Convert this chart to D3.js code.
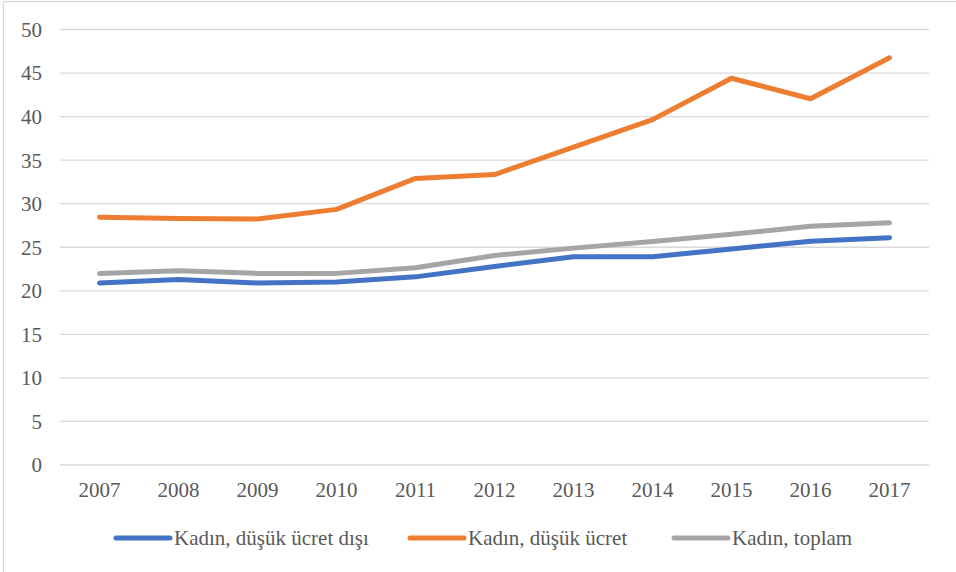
<!DOCTYPE html>
<html>
<head>
<meta charset="utf-8">
<script src="https://cdn.jsdelivr.net/npm/d3@7"></script>
<style>
  body { margin: 0; background: #fff; }
</style>
</head>
<body>
<div id="chart"></div>
<script>
const years = ["2007","2008","2009","2010","2011","2012","2013","2014","2015","2016","2017"];
const disi   = [20.9, 21.3, 20.9, 21.0, 21.6, 22.8, 23.9, 23.9, 24.8, 25.7, 26.1];
const dusuk  = [28.45, 28.3, 28.25, 29.35, 32.9, 33.35, 36.5, 39.65, 44.4, 42.05, 46.75];
const toplam = [22.0, 22.3, 22.0, 22.0, 22.65, 24.05, 24.9, 25.65, 26.5, 27.4, 27.8];
const yTicks = [0, 5, 10, 15, 20, 25, 30, 35, 40, 45, 50];

const series = [
  { name: "Kadın, düşük ücret dışı", values: disi, color: "#4472C4" },
  { name: "Kadın, düşük ücret", values: dusuk, color: "#ED7D31" },
  { name: "Kadın, toplam", values: toplam, color: "#A5A5A5" }
];

const W = 956, H = 572;
const margin = { top: 29.5, right: 27, bottom: 107, left: 60 };
const FONT = "\"Liberation Serif\"";

const svg = d3.select("#chart").append("svg")
  .attr("width", W).attr("height", H);

// chart border
svg.append("rect")
  .attr("x", 3.5).attr("y", 1.5)
  .attr("width", W + 10).attr("height", H + 10)
  .attr("fill", "none").attr("stroke", "#d9d9d9").attr("stroke-width", 1.3);

const x = d3.scaleBand().domain(years).range([margin.left, W - margin.right]);
const y = d3.scaleLinear().domain([0, 50]).range([H - margin.bottom, margin.top]);

// gridlines
svg.append("g").selectAll("line")
  .data(yTicks)
  .join("line")
  .attr("x1", margin.left).attr("x2", W - margin.right)
  .attr("y1", d => y(d)).attr("y2", d => y(d))
  .attr("stroke", "#d9d9d9").attr("stroke-width", 1.3);

// y labels
svg.append("g").selectAll("text")
  .data(yTicks)
  .join("text")
  .attr("x", 42)
  .attr("y", d => y(d))
  .attr("dy", "0.35em")
  .attr("text-anchor", "end")
  .attr("fill", "#595959")
  .style("font-family", FONT)
  .style("font-size", "21px")
  .text(d => d);

// x labels
svg.append("g").selectAll("text")
  .data(years)
  .join("text")
  .attr("x", d => x(d) + x.bandwidth() / 2)
  .attr("y", y(0) + 32)
  .attr("text-anchor", "middle")
  .attr("fill", "#595959")
  .style("font-family", FONT)
  .style("font-size", "21px")
  .text(d => d);

const line = d3.line()
  .x((d, i) => x(years[i]) + x.bandwidth() / 2)
  .y(d => y(d));

svg.append("g").selectAll("path")
  .data(series)
  .join("path")
  .attr("d", d => line(d.values))
  .attr("fill", "none")
  .attr("stroke", d => d.color)
  .attr("stroke-width", 5)
  .attr("stroke-linecap", "round")
  .attr("stroke-linejoin", "round");

// legend
const legendX = [116, 410, 674];
const legendY = 538;
const lg = svg.append("g").selectAll("g")
  .data(series)
  .join("g")
  .attr("transform", (d, i) => `translate(${legendX[i]}, ${legendY})`);

lg.append("line")
  .attr("x1", 0).attr("x2", 54)
  .attr("stroke", d => d.color)
  .attr("stroke-width", 5)
  .attr("stroke-linecap", "round");

lg.append("text")
  .attr("x", 58)
  .attr("dy", "0.35em")
  .attr("fill", "#595959")
  .style("font-family", FONT)
  .style("font-size", "21px")
  .text(d => d.name);
</script>
</body>
</html>
